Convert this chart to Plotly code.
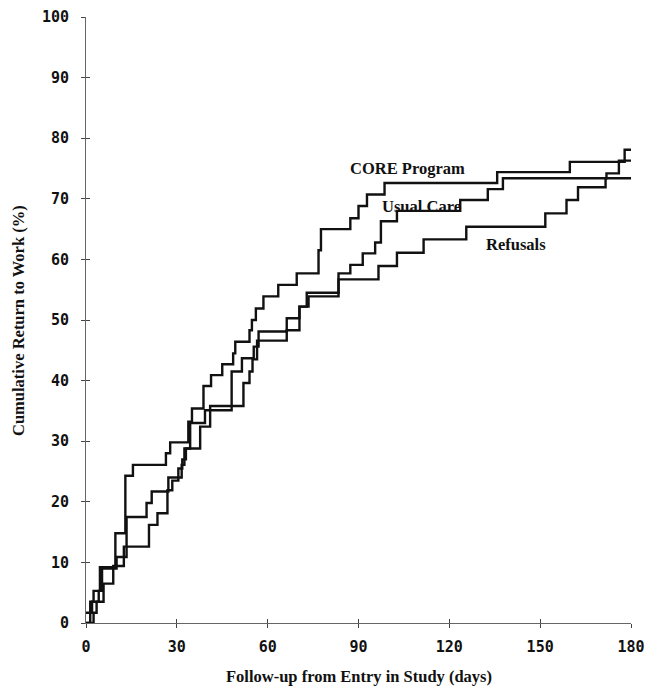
import plotly.graph_objects as go

# ---- data (days from entry, cumulative % returned to work; value after each step) ----
core_days = [0, 1.4, 2.5, 4.6, 9.7, 13.0, 15.5, 26.4, 27.8, 33.8, 35.0, 38.8, 41.3, 45.0, 48.6,
             49.3, 54.0, 54.8, 56.1, 58.6, 63.5, 69.6, 76.8, 77.6, 87.3, 90.0, 92.8, 98.6,
             135.8, 159.8, 177.9, 180]
core_pct = [0, 3.5, 5.3, 9.2, 14.8, 24.3, 26.1, 28.0, 29.8, 33.2, 35.4, 39.1, 40.9, 42.7, 44.5,
            46.4, 48.3, 50.0, 51.9, 53.9, 55.8, 57.7, 61.5, 65.0, 66.8, 68.8, 70.7, 72.6,
            74.4, 76.1, 78.1, 78.1]

usual_days = [0, 2.0, 4.2, 5.3, 10.1, 13.4, 20.0, 21.7, 27.2, 31.6, 32.5, 34.4, 39.3, 48.1,
              51.5, 55.4, 57.0, 66.3, 70.5, 72.9, 83.4, 87.3, 91.4, 95.5, 97.4, 102.7,
              123.6, 132.7, 137.7, 171.9, 176.0, 180]
usual_pct = [1.7, 3.5, 5.3, 9.0, 10.9, 17.5, 19.8, 21.7, 24.0, 26.1, 28.8, 33.0, 35.1, 41.5,
             43.7, 45.6, 48.1, 50.3, 52.2, 54.5, 57.7, 59.1, 61.0, 62.8, 66.3, 68.0,
             69.8, 71.6, 73.4, 74.2, 76.3, 76.3]

refusal_days = [0, 2.5, 3.5, 5.8, 9.0, 12.5, 20.8, 23.6, 26.9, 28.5, 30.5, 31.8, 33.0, 37.7,
                41.0, 52.0, 54.0, 55.0, 56.5, 66.3, 70.5, 73.5, 83.4, 96.6, 102.7, 111.5,
                125.6, 151.7, 158.7, 162.5, 171.6, 180]
refusal_pct = [0, 1.7, 3.5, 6.5, 9.4, 12.6, 16.2, 18.1, 21.9, 23.5, 25.5, 27.0, 28.8, 32.4,
               35.8, 39.6, 41.5, 43.5, 46.6, 48.3, 52.2, 53.9, 56.7, 58.9, 61.1, 63.3,
               65.4, 67.6, 69.8, 71.9, 73.4, 73.4]

x_ticks = [0, 30, 60, 90, 120, 150, 180]
y_ticks = [0, 10, 20, 30, 40, 50, 60, 70, 80, 90, 100]

labels = ["CORE Program", "Usual Care", "Refusals"]
label_pos = [(86.6, 75.0), (97.2, 68.8), (131.3, 62.5)]

# ---- figure ----
fig = go.Figure()
line_style = dict(color="#111111", width=2.4, shape="hv")
for d, p, name in [(core_days, core_pct, labels[0]),
                   (usual_days, usual_pct, labels[1]),
                   (refusal_days, refusal_pct, labels[2])]:
    fig.add_trace(go.Scatter(x=d, y=p, mode="lines", line=line_style, name=name,
                             showlegend=False, hoverinfo="skip", cliponaxis=False))

# invisible trace so the overlay axes (inner half of crossing ticks) get drawn
fig.add_trace(go.Scatter(x=[0], y=[0], xaxis="x2", yaxis="y2", mode="markers",
                         marker=dict(opacity=0), showlegend=False, hoverinfo="skip"))

label_font = dict(family="Liberation Serif", size=16.5, color="#111111", weight="bold")
title_font = dict(family="Liberation Serif", size=16.5, color="#111111", weight="bold")
mono_bold = dict(family="DejaVu Sans Mono", size=15, color="#111111", weight="bold")

for (lx, ly), txt in zip(label_pos, labels):
    fig.add_annotation(x=lx, y=ly, text=txt, showarrow=False, xanchor="left",
                       yanchor="middle", font=label_font)

fig.add_annotation(text="Cumulative Return to Work (%)", xref="paper", yref="paper",
                   x=-0.1248, y=0.5, textangle=-90, showarrow=False,
                   xanchor="center", yanchor="middle", font=title_font)
fig.add_annotation(text="Follow-up from Entry in Study (days)", xref="paper", yref="paper",
                   x=0.5, y=-0.0875, showarrow=False,
                   xanchor="center", yanchor="middle", font=title_font)

axis_common = dict(showgrid=False, zeroline=False, automargin=False)

fig.update_layout(
    width=645, height=688, autosize=False,
    margin=dict(l=86, r=14, t=17, b=65, pad=0),
    paper_bgcolor="white", plot_bgcolor="white",
    xaxis=dict(range=[0, 180], tickvals=x_ticks, ticktext=[str(v) for v in x_ticks],
               showline=True, linecolor="#666666", linewidth=1, ticks="outside",
               ticklen=4, tickcolor="#444444", tickfont=mono_bold,
               ticklabelstandoff=6, **axis_common),
    yaxis=dict(range=[0, 100], tickvals=y_ticks, ticktext=[str(v) for v in y_ticks],
               showline=True, linecolor="#666666", linewidth=1, ticks="outside",
               ticklen=4, tickcolor="#444444", tickfont=mono_bold,
               ticklabelstandoff=9, **axis_common),
    xaxis2=dict(range=[0, 180], overlaying="x", anchor="y2", side="bottom",
                tickvals=x_ticks, showticklabels=False, showline=False,
                ticks="inside", ticklen=4, tickcolor="#444444", **axis_common),
    yaxis2=dict(range=[0, 100], overlaying="y", anchor="x2", side="left",
                tickvals=y_ticks, showticklabels=False, showline=False,
                ticks="inside", ticklen=4, tickcolor="#444444", **axis_common),
)

fig.write_html(
    "out.html",
    config={"displayModeBar": False, "responsive": False},
    post_script="document.body.style.margin='0';document.body.style.overflow='hidden';",
)
